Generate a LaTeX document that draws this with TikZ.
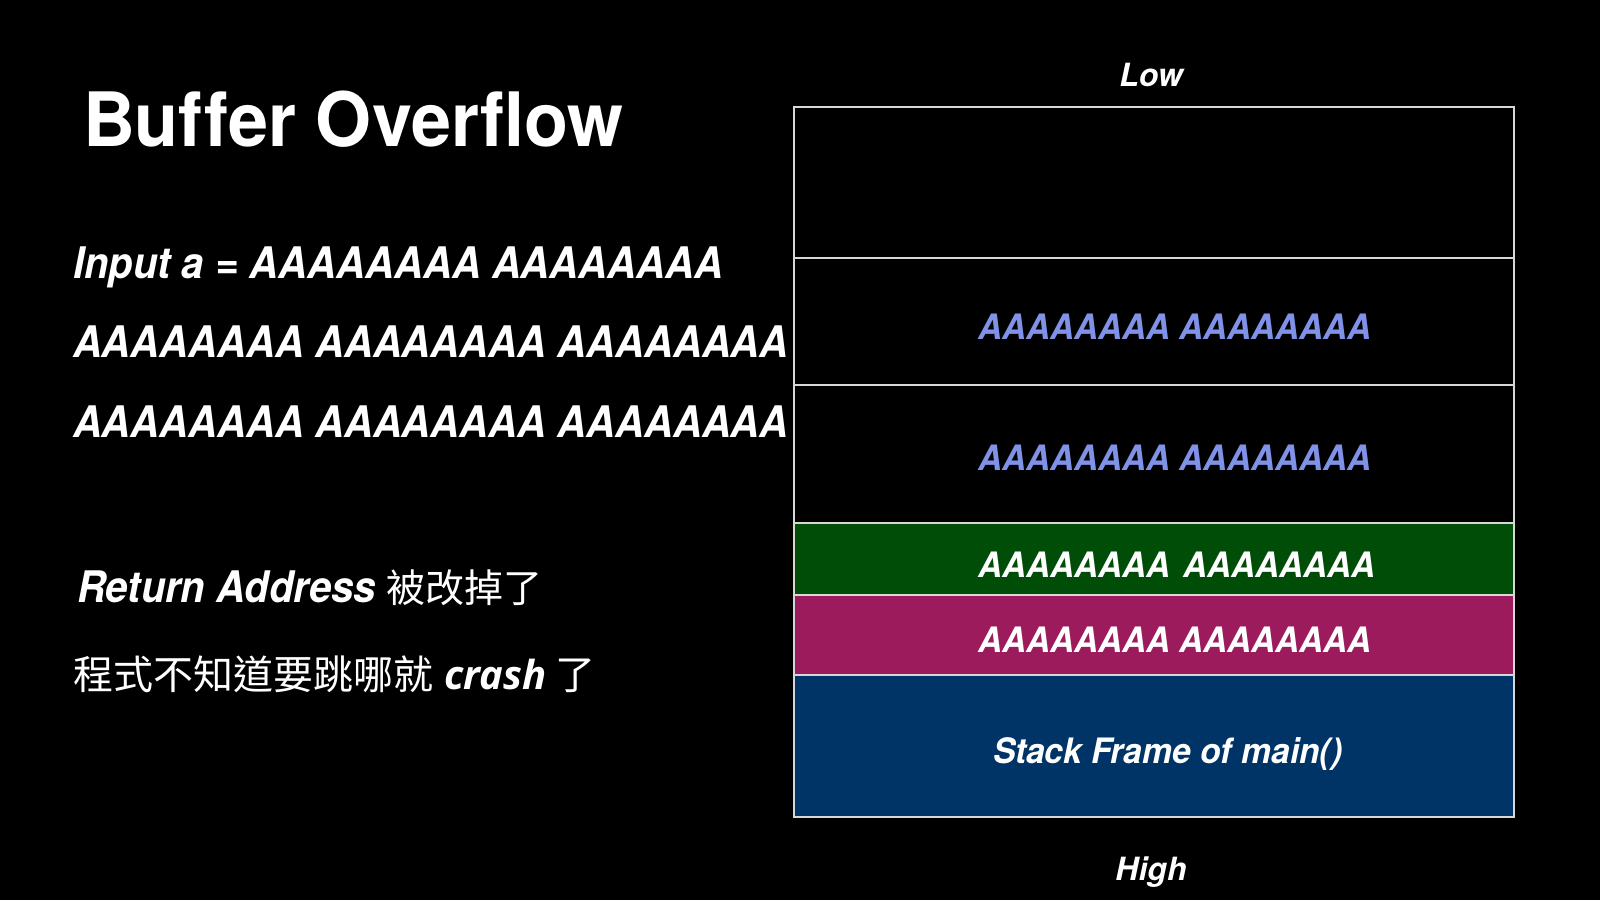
\documentclass[tikz,border=0pt]{standalone}
\usepackage{fontspec}
\setmainfont{TeX Gyre Heros}
\newfontfamily\hvc[FakeStretch=0.92]{TeX Gyre Heros}
\newfontfamily\hvt[FakeStretch=0.96,Ligatures=NoCommon]{TeX Gyre Heros}
\newfontfamily\hvr[FakeStretch=0.95]{TeX Gyre Heros}
\newfontfamily\hvs[FakeStretch=0.96]{TeX Gyre Heros}
\newfontfamily\osans{Open Sans}
\newfontfamily\cjk{Noto Sans CJK TC}
\definecolor{rowgreen}{RGB}{0,77,8}
\definecolor{rowmag}{RGB}{155,27,93}
\definecolor{rownavy}{RGB}{0,51,102}
\definecolor{lav}{RGB}{128,146,232}
\definecolor{edge}{RGB}{215,215,215}
\begin{document}
\begin{tikzpicture}[x=1pt,y=-1pt,
  every node/.style={inner sep=0pt, outer sep=0pt, text=white},
  cell/.style={draw=edge, line width=1.3pt, minimum width=720pt, anchor=north west},
  txt/.style={anchor=base west},
  lefttxt/.style={anchor=base west, font=\hvc\fontsize{43.5}{50}\selectfont\bfseries\itshape},
  rowtxt/.style={anchor=base west, font=\hvr\fontsize{35}{40}\selectfont\bfseries\itshape},
  endtxt/.style={anchor=base, font=\fontsize{32}{36}\selectfont\bfseries\itshape}]
\fill[black] (0,0) rectangle (1600,900);
\useasboundingbox (0,0) rectangle (1600,900);

% title
\node[txt, font=\hvt\fontsize{75}{80}\selectfont\bfseries] (title) at (83,146) {Buffer Overflow};

% left text
\node[lefttxt] (in1) at (73,278) {Input a = AAAAAAAA AAAAAAAA};
\node[lefttxt] (in2) at (73,357) {AAAAAAAA AAAAAAAA AAAAAAAA};
\node[lefttxt] (in3) at (73,437) {AAAAAAAA AAAAAAAA AAAAAAAA};
\node[txt] (ret) at (77,602) {\hvc\fontsize{43.5}{50}\selectfont\bfseries\itshape Return Address\hspace{11pt}\cjk\fontsize{39}{44}\selectfont\mdseries\upshape 被改掉了};
\node[txt] (crash) at (73,689) {\cjk\fontsize{40}{44}\selectfont 程式不知道要跳哪就\hspace{11pt}{\osans\bfseries\itshape crash}\hspace{9pt}了};

% stack rows
\node[cell, minimum height=151pt] (r1) at (794,107) {};
\node[cell, minimum height=127pt] (r2) at (794,258) {};
\node[cell, minimum height=138pt] (r3) at (794,385) {};
\node[cell, minimum height=72pt, fill=rowgreen] (r4) at (794,523) {};
\node[cell, minimum height=80pt, fill=rowmag] (r5) at (794,595) {};
\node[cell, minimum height=142pt, fill=rownavy] (r6) at (794,675) {};

\node[rowtxt, text=lav] (t2) at (978,339) {AAAAAAAA AAAAAAAA};
\node[rowtxt, text=lav] (t3) at (978,470) {AAAAAAAA AAAAAAAA};
\node[rowtxt] (t4) at (978,577) {AAAAAAAA\hspace{13pt}AAAAAAAA};
\node[rowtxt] (t5) at (978,652) {AAAAAAAA AAAAAAAA};
\node[rowtxt, font=\hvs\fontsize{35}{40}\selectfont\bfseries\itshape] (t6) at (993,763) {Stack Frame of main()};

\node[endtxt] (low) at (1151,86) {Low};
\node[endtxt] (high) at (1151,880) {High};
\end{tikzpicture}
\end{document}
